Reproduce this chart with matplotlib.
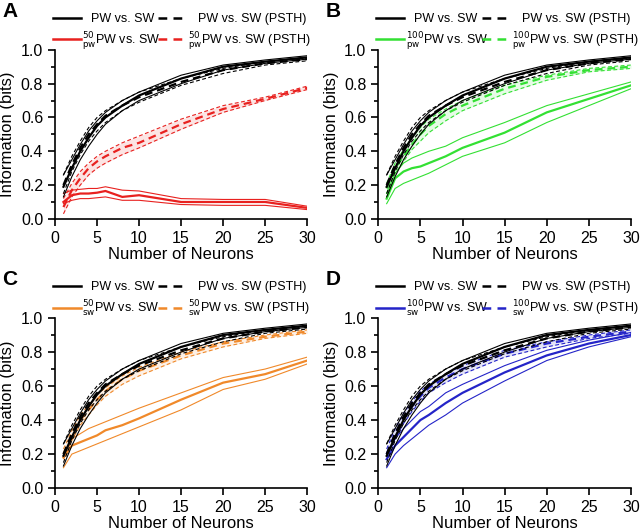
import matplotlib
matplotlib.use('Agg')
import matplotlib.pyplot as plt
from matplotlib.lines import Line2D
from matplotlib.legend import Legend
from matplotlib.ticker import MultipleLocator

plt.rcParams['font.family'] = ['Liberation Sans', 'DejaVu Sans']

# 横軸 (ニューロン数)
n_neurons = [1, 2, 3, 4, 5, 6, 8, 10, 15, 20, 25, 30]

# PW vs. SW (全パネル共通)
pw_mean = [0.19, 0.30, 0.40, 0.48, 0.55, 0.60, 0.67, 0.73, 0.83, 0.90, 0.93, 0.955]
pw_hi = [0.26, 0.35, 0.44, 0.52, 0.58, 0.63, 0.70, 0.75, 0.85, 0.91, 0.94, 0.965]
pw_lo = [0.13, 0.25, 0.35, 0.43, 0.50, 0.56, 0.64, 0.70, 0.80, 0.88, 0.92, 0.945]
# PW vs. SW (PSTH)
pwp_mean = [0.20, 0.32, 0.42, 0.50, 0.56, 0.61, 0.67, 0.72, 0.81, 0.88, 0.92, 0.945]
pwp_hi = [0.26, 0.37, 0.46, 0.54, 0.60, 0.64, 0.70, 0.75, 0.83, 0.89, 0.93, 0.955]
pwp_lo = [0.15, 0.28, 0.38, 0.46, 0.52, 0.57, 0.64, 0.69, 0.79, 0.86, 0.91, 0.935]

# A: 50 pw
a_mean = [0.10, 0.14, 0.15, 0.15, 0.155, 0.165, 0.13, 0.14, 0.10, 0.10, 0.10, 0.065]
a_hi = [0.15, 0.17, 0.175, 0.18, 0.18, 0.19, 0.17, 0.165, 0.12, 0.115, 0.115, 0.075]
a_lo = [0.09, 0.11, 0.12, 0.12, 0.125, 0.13, 0.11, 0.11, 0.085, 0.08, 0.08, 0.055]
ap_mean = [0.07, 0.17, 0.24, 0.30, 0.34, 0.37, 0.42, 0.45, 0.56, 0.65, 0.71, 0.775]
ap_hi = [0.12, 0.21, 0.28, 0.33, 0.37, 0.40, 0.45, 0.49, 0.59, 0.67, 0.72, 0.785]
ap_lo = [0.03, 0.13, 0.20, 0.26, 0.30, 0.33, 0.38, 0.42, 0.53, 0.63, 0.70, 0.765]

# B: 100 pw
b_mean = [0.12, 0.24, 0.28, 0.30, 0.31, 0.33, 0.37, 0.42, 0.51, 0.63, 0.71, 0.79]
b_hi = [0.15, 0.27, 0.33, 0.36, 0.38, 0.40, 0.43, 0.48, 0.57, 0.67, 0.74, 0.81]
b_lo = [0.09, 0.18, 0.21, 0.23, 0.25, 0.27, 0.32, 0.37, 0.45, 0.57, 0.67, 0.77]
bp_mean = [0.18, 0.30, 0.37, 0.44, 0.50, 0.55, 0.62, 0.67, 0.77, 0.84, 0.88, 0.90]
bp_hi = [0.21, 0.33, 0.41, 0.48, 0.54, 0.59, 0.65, 0.70, 0.79, 0.85, 0.89, 0.91]
bp_lo = [0.15, 0.27, 0.34, 0.41, 0.46, 0.51, 0.58, 0.64, 0.74, 0.82, 0.87, 0.89]

# C: 50 sw
c_mean = [0.18, 0.25, 0.27, 0.29, 0.31, 0.34, 0.37, 0.41, 0.52, 0.62, 0.67, 0.75]
c_hi = [0.19, 0.29, 0.32, 0.35, 0.37, 0.39, 0.43, 0.47, 0.56, 0.65, 0.70, 0.77]
c_lo = [0.12, 0.20, 0.22, 0.24, 0.26, 0.28, 0.32, 0.36, 0.46, 0.58, 0.64, 0.73]
cp_mean = [0.20, 0.31, 0.40, 0.46, 0.52, 0.57, 0.64, 0.69, 0.78, 0.85, 0.89, 0.92]
cp_hi = [0.23, 0.34, 0.43, 0.49, 0.55, 0.59, 0.66, 0.71, 0.80, 0.86, 0.90, 0.93]
cp_lo = [0.17, 0.28, 0.37, 0.43, 0.49, 0.54, 0.61, 0.66, 0.76, 0.83, 0.88, 0.91]

# D: 100 sw
d_mean = [0.17, 0.25, 0.30, 0.35, 0.40, 0.43, 0.50, 0.56, 0.68, 0.78, 0.85, 0.90]
d_hi = [0.19, 0.29, 0.35, 0.40, 0.45, 0.48, 0.56, 0.61, 0.72, 0.81, 0.87, 0.915]
d_lo = [0.12, 0.20, 0.25, 0.29, 0.33, 0.37, 0.43, 0.50, 0.63, 0.75, 0.83, 0.89]
dp_mean = [0.20, 0.32, 0.41, 0.48, 0.54, 0.59, 0.65, 0.70, 0.79, 0.85, 0.89, 0.92]
dp_hi = [0.23, 0.35, 0.44, 0.51, 0.57, 0.61, 0.67, 0.72, 0.81, 0.86, 0.90, 0.93]
dp_lo = [0.17, 0.29, 0.38, 0.45, 0.51, 0.56, 0.62, 0.67, 0.77, 0.83, 0.88, 0.91]

panels = [
    ('A', r'$^{50}_{\mathrm{pw}}$', '#e8211f', (a_mean, a_hi, a_lo), (ap_mean, ap_hi, ap_lo)),
    ('B', r'$^{100}_{\mathrm{pw}}$', '#33e033', (b_mean, b_hi, b_lo), (bp_mean, bp_hi, bp_lo)),
    ('C', r'$^{50}_{\mathrm{sw}}$', '#f0892a', (c_mean, c_hi, c_lo), (cp_mean, cp_hi, cp_lo)),
    ('D', r'$^{100}_{\mathrm{sw}}$', '#2424c8', (d_mean, d_hi, d_lo), (dp_mean, dp_hi, dp_lo)),
]

# 各パネルの位置 [left, bottom, width, height]
positions = [
    [0.086, 0.587, 0.394, 0.319],
    [0.591, 0.587, 0.395, 0.319],
    [0.086, 0.079, 0.394, 0.321],
    [0.591, 0.079, 0.395, 0.321],
]
DASH = (0, (3.5, 2.2))
LEG_DASH = (0, (3.5, 2.5))

fig = plt.figure(figsize=(6.4, 5.3), dpi=100)


def draw_group(ax, x, grp, color, ls, fill):
    mean, hi, lo = grp
    if fill:
        ax.fill_between(x, lo, hi, color=color, alpha=0.12, lw=0)
    ax.plot(x, hi, color=color, lw=0.8, ls=ls)
    ax.plot(x, lo, color=color, lw=0.8, ls=ls)
    ax.plot(x, mean, color=color, lw=1.6, ls=ls)


def add_entry(ax, handle, label, x, y, pad):
    leg = Legend(ax, [handle], [label], frameon=False, fontsize=9,
                 loc='center left', bbox_to_anchor=(x, y),
                 handlelength=2.2, handletextpad=pad,
                 borderaxespad=0, borderpad=0)
    ax.add_artist(leg)


for pos, (letter, sup, color, solid, dashed) in zip(positions, panels):
    ax = fig.add_axes(pos)
    draw_group(ax, n_neurons, dashed, color, DASH, True)
    draw_group(ax, n_neurons, solid, color, '-', False)
    draw_group(ax, n_neurons, (pwp_mean, pwp_hi, pwp_lo), 'black', DASH, False)
    draw_group(ax, n_neurons, (pw_mean, pw_hi, pw_lo), 'black', '-', False)

    ax.set_xlim(0, 30)
    ax.set_ylim(0, 1.0)
    ax.xaxis.set_major_locator(MultipleLocator(5))
    ax.yaxis.set_major_locator(MultipleLocator(0.2))
    ax.yaxis.set_minor_locator(MultipleLocator(0.1))
    ax.yaxis.set_major_formatter(matplotlib.ticker.FormatStrFormatter('%.1f'))
    ax.spines['top'].set_visible(False)
    ax.spines['right'].set_visible(False)
    ax.spines['left'].set_linewidth(1.2)
    ax.spines['bottom'].set_linewidth(1.2)
    ax.tick_params(which='major', direction='out', length=5, width=1.2, labelsize=11.5)
    ax.tick_params(which='minor', direction='out', length=3, width=1.2)
    ax.set_xlabel('Number of Neurons', fontsize=12, labelpad=1)
    ax.set_ylabel('Information (bits)', fontsize=12, labelpad=4)

    # 凡例: 1項目ずつ配置
    add_entry(ax, Line2D([], [], color='black', lw=1.8), 'PW vs. SW', -0.008, 1.18, 0.8)
    add_entry(ax, Line2D([], [], color=color, lw=1.8), sup + 'PW vs. SW', -0.008, 1.055, 0.15)
    add_entry(ax, Line2D([], [], color='black', lw=1.8, ls=LEG_DASH),
              'PW vs. SW (PSTH)', 0.41, 1.18, 1.0)
    add_entry(ax, Line2D([], [], color=color, lw=1.8, ls=LEG_DASH),
              sup + 'PW vs. SW (PSTH)', 0.41, 1.055, 0.2)

    fig.text(pos[0] - 0.082, pos[1] + pos[3] + 0.072, letter,
             fontsize=15, fontweight='bold', ha='left', va='center')

fig.savefig('out.png', dpi=100)
